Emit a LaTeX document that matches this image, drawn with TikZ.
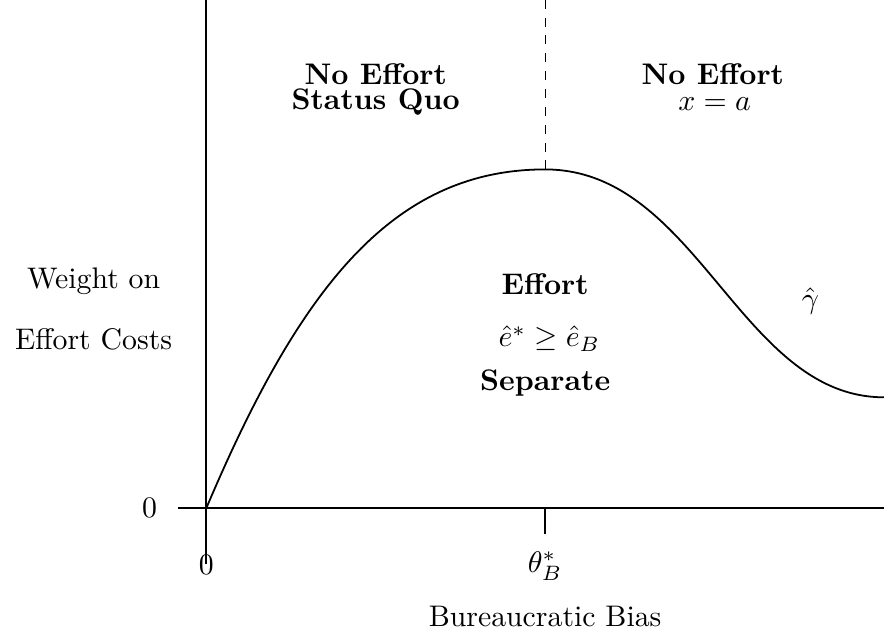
\documentclass[tikz,border=0pt]{standalone}
\usepackage{amsmath,amssymb}
\usepackage{tikz}

\begin{document}
\begin{tikzpicture}[
    axis/.style={semithick, draw=black},
    curve/.style={semithick, draw=black},
    guide/.style={thin, dashed, draw=black},
    region/.style={font=\bfseries, inner sep=1pt},
    axislabel/.style={font=\normalsize, inner sep=1pt}
]
    \useasboundingbox (-2.435, -1.565) rectangle (8, 6);

    \coordinate (o) at (0, 0);
    \coordinate (ybot) at (0, -0.66);
    \coordinate (ytop) at (0, 6);
    \coordinate (xleft) at (-0.33, 0);
    \coordinate (xright) at (8, 0);
    \coordinate (tick) at (4, -0.3);
    \coordinate (peak) at (4, 4);
    \coordinate (ptop) at (4, 6);

    \draw[axis] (ybot) -- (ytop);
    \draw[axis] (xleft) -- (xright);
    \draw[axis] (4, 0) -- (tick);
    \draw[guide] (peak) -- (ptop);

    \draw[curve] (o) .. controls (1.1, 2.6) and (2.2, 4) .. (peak)
        .. controls (5.8, 4) and (6.3, 1.31) .. (8, 1.31);

    \node[axislabel] (yzero) at (-0.67, 0) {0};
    \node[axislabel] (xzero) at (0, -0.67) {0};
    \node[axislabel] (theta) at (4, -0.68) {$\theta_B^*$};
    \node[axislabel] (xlab) at (4, -1.28) {Bureaucratic Bias};
    \node[axislabel] (ylab1) at (-1.33, 2.68) {Weight on};
    \node[axislabel] (ylab2) at (-1.33, 1.99) {Effort Costs};

    \node[region] (ne1) at (2, 5.12) {No Effort};
    \node[region] (sq) at (2, 4.79) {Status Quo};
    \node[region] (ne2) at (5.98, 5.12) {No Effort};
    \node[inner sep=1pt] (xa) at (6, 4.77) {$x=a$};

    \node[region] (eff) at (4, 2.65) {Effort};
    \node[inner sep=1pt] (ineq) at (4.05, 2.0) {$\hat{e}^* \geq \hat{e}_B$};
    \node[region] (sep) at (4, 1.48) {Separate};

    \node[inner sep=1pt] (gam) at (7.13, 2.45) {$\hat{\gamma}$};
\end{tikzpicture}
\end{document}
